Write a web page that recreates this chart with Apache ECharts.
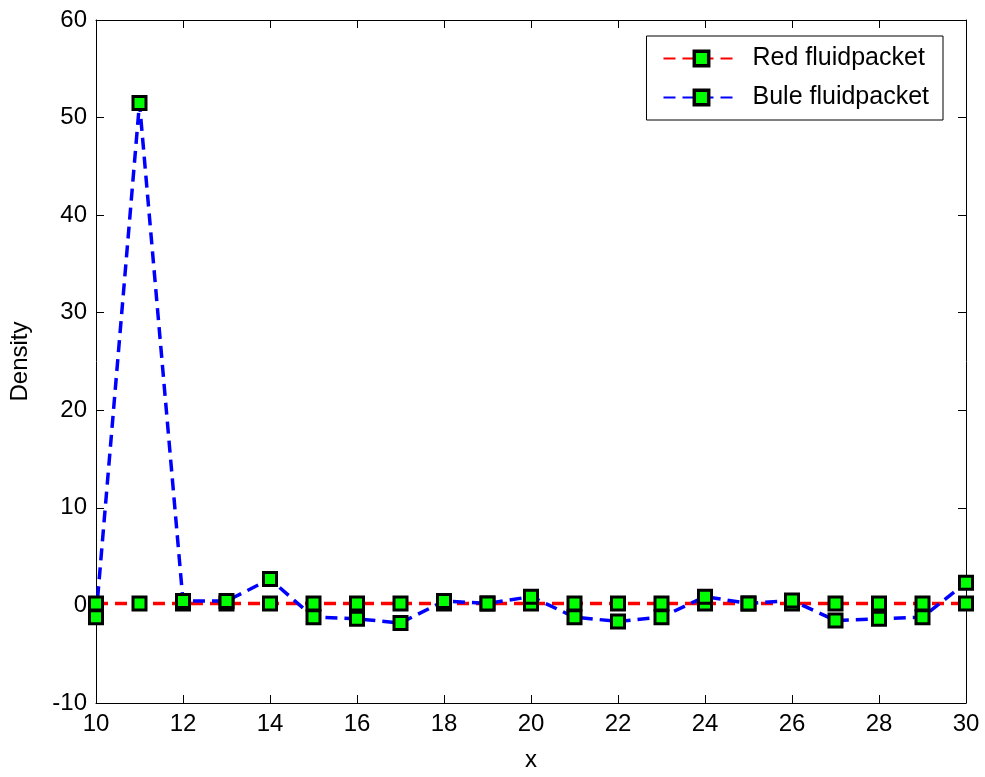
<!DOCTYPE html>
<html><head><meta charset="utf-8">
<script src="https://cdn.jsdelivr.net/npm/echarts@6/dist/echarts.min.js"></script>
<style>html,body{margin:0;padding:0;background:#fff}#c{width:985px;height:777px}</style>
</head><body><div id="c"></div>
<script>
const xValues = [10,11,12,13,14,15,16,17,18,19,20,21,22,23,24,25,26,27,28,29,30];
const redValues = [0.2,0.2,0.2,0.2,0.2,0.2,0.2,0.2,0.2,0.2,0.2,0.2,0.2,0.2,0.2,0.2,0.2,0.2,0.2,0.2,0.2];
const blueValues = [-1.2,51.5,0.45,0.45,2.7,-1.2,-1.37,-1.8,0.45,0.2,0.9,-1.2,-1.64,-1.2,0.9,0.2,0.5,-1.54,-1.37,-1.2,2.33];
const seriesNames = ['Red fluidpacket','Bule fluidpacket'];
const xTicks = {min:10,max:30,interval:2};
const yTicks = {min:-10,max:60,interval:10};

const font = 'Liberation Sans, Arial, sans-serif';
const chart = echarts.init(document.getElementById('c'));
const marker = {symbol:'rect', symbolSize:13, itemStyle:{color:'#00ff00', borderColor:'#000', borderWidth:3}};
function axisCommon(show){
  return {
    axisLine:{show:true,onZero:false,lineStyle:{color:'#000',width:1}},
    axisTick:{show:true,inside:true,length:8,lineStyle:{color:'#000'}},
    axisLabel:{show:show,color:'#000',fontSize:24,fontFamily:font,margin:9},
    splitLine:{show:false}
  };
}
chart.setOption({
  animation:false,
  backgroundColor:'#fff',
  grid:{left:95,right:19,top:20,bottom:70,show:false},
  legend:{
    right:42, top:36, orient:'vertical',
    data:seriesNames.map(n=>({name:n,itemStyle:{color:'#00ff00',borderColor:'#000',borderWidth:3.5}})),
    itemWidth:76, itemHeight:18, itemGap:14,
    borderColor:'#000', borderWidth:1, padding:[10,14,10,16],
    backgroundColor:'#fff',
    textStyle:{fontSize:25,fontFamily:font,color:'#000',padding:[0,0,0,8]}
  },
  xAxis:[
    Object.assign({type:'value',min:xTicks.min,max:xTicks.max,interval:xTicks.interval,position:'bottom',
      name:'x',nameLocation:'middle',nameGap:45,nameTextStyle:{fontSize:24,fontFamily:font,color:'#000'}},axisCommon(true)),
    Object.assign({type:'value',min:xTicks.min,max:xTicks.max,interval:xTicks.interval,position:'top'},axisCommon(false))
  ],
  yAxis:[
    Object.assign({type:'value',min:yTicks.min,max:yTicks.max,interval:yTicks.interval,position:'left',
      name:'Density',nameLocation:'middle',nameGap:64,nameTextStyle:{fontSize:24,fontFamily:font,color:'#000'}},axisCommon(true)),
    Object.assign({type:'value',min:yTicks.min,max:yTicks.max,interval:yTicks.interval,position:'right'},axisCommon(false))
  ],
  series:[
    Object.assign({name:seriesNames[0],type:'line',data:xValues.map((x,i)=>[x,redValues[i]]),
      lineStyle:{color:'#ff0000',width:3.5,type:[12,7]},color:'#ff0000'},marker,{itemStyle:Object.assign({},marker.itemStyle)}),
    Object.assign({name:seriesNames[1],type:'line',data:xValues.map((x,i)=>[x,blueValues[i]]),
      lineStyle:{color:'#0000ff',width:3.5,type:[12,7]},color:'#0000ff'},marker,{itemStyle:Object.assign({},marker.itemStyle)})
  ]
});
</script></body></html>
